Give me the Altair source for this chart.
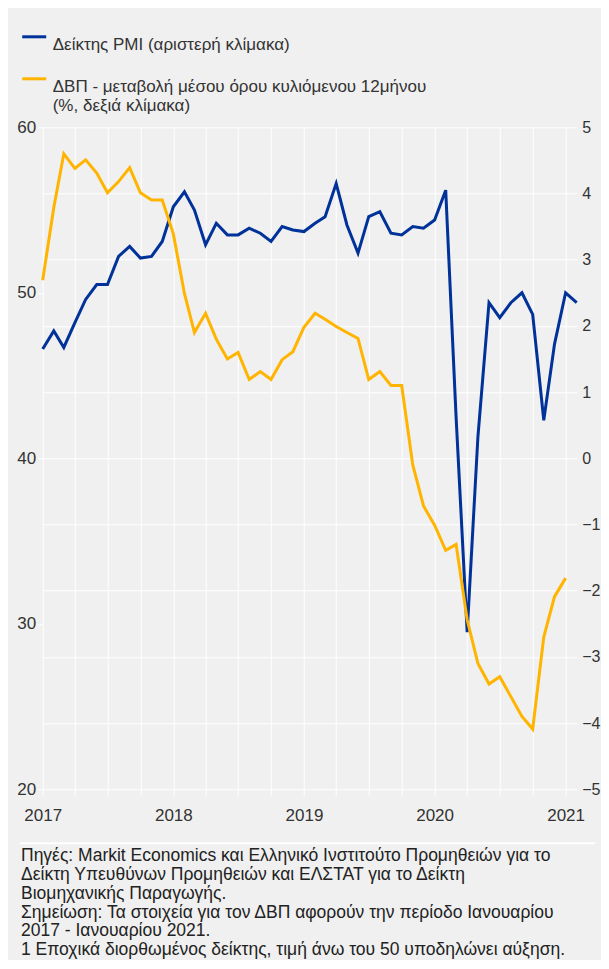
import json
import altair as alt
import pandas as pd

# ---------------- data ----------------
months = pd.date_range("2017-01-01", "2021-02-01", freq="MS").strftime("%Y-%m-%d").tolist()

pmi = [46.6, 47.7, 46.7, 48.2, 49.6, 50.5, 50.5, 52.2, 52.8, 52.1, 52.2, 53.1,
       55.2, 56.1, 55.0, 52.9, 54.2, 53.5, 53.5, 53.9, 53.6, 53.1, 54.0, 53.8,
       53.7, 54.2, 54.6, 56.6, 54.1, 52.4, 54.6, 54.9, 53.6, 53.5, 54.0, 53.9,
       54.4, 56.2, 42.5, 29.5, 41.3, 49.4, 48.5, 49.4, 50.0, 48.7, 42.3, 46.9,
       50.0, 49.4]

gdp = [2.69, 3.79, 4.60, 4.38, 4.51, 4.31, 4.01, 4.18, 4.39, 4.01, 3.90, 3.90,
       3.39, 2.49, 1.90, 2.19, 1.80, 1.50, 1.60, 1.19, 1.31, 1.19, 1.49, 1.61,
       1.98, 2.19, 2.10, 1.99, 1.90, 1.81, 1.19, 1.31, 1.10, 1.10, -0.10, -0.72,
       -1.01, -1.39, -1.30, -2.44, -3.10, -3.41, -3.30, -3.60, -3.90, -4.09, -2.70, -2.09,
       -1.81]

series_keys = ["PMI", "GDP"]
series_colors = ["#003299", "#FFB400"]
label_pmi = "Δείκτης PMI (αριστερή κλίμακα)"
label_gdp = ["ΔΒΠ - μεταβολή μέσου όρου κυλιόμενου 12μήνου", "(%, δεξιά κλίμακα)"]

left_ticks = [20, 30, 40, 50, 60]
right_ticks = [-5, -4, -3, -2, -1, 0, 1, 2, 3, 4, 5]
quarter_ticks = pd.date_range("2017-01-01", "2021-01-01", freq="QS").tolist()

footnotes = [
    "Πηγές: Markit Economics και Ελληνικό Ινστιτούτο Προμηθειών για το",
    "Δείκτη Υπευθύνων Προμηθειών και ΕΛΣΤΑΤ για το Δείκτη",
    "Βιομηχανικής Παραγωγής.",
    "Σημείωση: Τα στοιχεία για τον ΔΒΠ αφορούν την περίοδο Ιανουαρίου",
    "2017 - Ιανουαρίου 2021.",
    "1 Εποχικά διορθωμένος δείκτης, τιμή άνω του 50 υποδηλώνει αύξηση.",
]

df_pmi = pd.DataFrame({"date": months, "value": pmi, "series": "PMI"})
df_gdp = pd.DataFrame({"date": months[:len(gdp)], "value": gdp, "series": "GDP"})

FONT = "Liberation Sans"
TXT = "#333333"

label_expr = "datum.value == 'GDP' ? %s : %s" % (
    json.dumps(label_gdp, ensure_ascii=False),
    json.dumps(label_pmi, ensure_ascii=False),
)

color_enc = alt.Color(
    "series:N",
    scale=alt.Scale(domain=series_keys, range=series_colors),
    legend=alt.Legend(
        title=None,
        orient="none",
        legendX=-22,
        legendY=-104,
        direction="vertical",
        symbolType="stroke",
        symbolStrokeWidth=3,
        symbolSize=576,
        labelExpr=label_expr,
        labelFont=FONT,
        labelFontSize=17,
        labelColor=TXT,
        labelLimit=560,
        labelOffset=5,
        labelBaseline="top",
        rowPadding=12,
    ),
)

x_enc = alt.X(
    "date:T",
    scale=alt.Scale(
        type="utc",
        domain=[alt.DateTime(year=2017, month=1, date=1, utc=True),
                alt.DateTime(year=2021, month=2, date=1, utc=True)],
    ),
    axis=alt.Axis(
        title=None,
        values=[alt.DateTime(year=d.year, month=d.month, date=1, utc=True) for d in quarter_ticks],
        labelExpr="utcFormat(datum.value, '%m') == '01' ? utcFormat(datum.value, '%Y') : ''",
        labelOverlap=False,
        labelFlush=False,
        grid=True,
        gridColor="white",
        gridWidth=1,
        domain=False,
        tickColor="white",
        tickSize=6,
        labelPadding=12,
    ),
)

pmi_line = alt.Chart(df_pmi).mark_line(strokeWidth=3).encode(
    x=x_enc,
    y=alt.Y(
        "value:Q",
        scale=alt.Scale(domain=[20, 60], nice=False, zero=False),
        axis=alt.Axis(orient="left", title=None, values=left_ticks, grid=False,
                      domain=False, tickColor="white", tickSize=5, labelPadding=2),
    ),
    color=color_enc,
)

gdp_line = alt.Chart(df_gdp).mark_line(strokeWidth=3).encode(
    x=x_enc,
    y=alt.Y(
        "value:Q",
        scale=alt.Scale(domain=[-5, 5], nice=False, zero=False),
        axis=alt.Axis(orient="right", title=None, values=right_ticks, grid=True,
                      gridColor="white", gridWidth=1, domain=False, ticks=False,
                      labelPadding=5, labelFontSize=16),
    ),
    color=color_enc,
)

separator = alt.Chart(pd.DataFrame({"k": [0]})).mark_rule(color="white", strokeWidth=2).encode(
    x=alt.value(-22.7), x2=alt.value(552.3), y=alt.value(716)
)

chart = (
    alt.layer(pmi_line, gdp_line, separator)
    .resolve_scale(y="independent")
    .properties(
        width=534,
        height=662,
        autosize=alt.AutoSizeParams(type="none"),
        padding={"left": 34.7, "top": 119.3, "right": 24.3, "bottom": 170.7},
        background="#f0f0f0",
        title=alt.TitleParams(
            text=footnotes,
            orient="bottom",
            anchor="start",
            frame="group",
            dx=-21.7,
            offset=3,
            font=FONT,
            fontSize=17.5,
            fontWeight="normal",
            color="#222222",
            lineHeight=18.8,
        ),
    )
    .configure(
        view={"stroke": None},
        axis={"labelFont": FONT, "labelFontSize": 17, "labelColor": TXT},
        style={"guide-label": {"lineHeight": 19}},
    )
)

chart.save("out.html", embed_options={"renderer": "svg", "actions": False})
